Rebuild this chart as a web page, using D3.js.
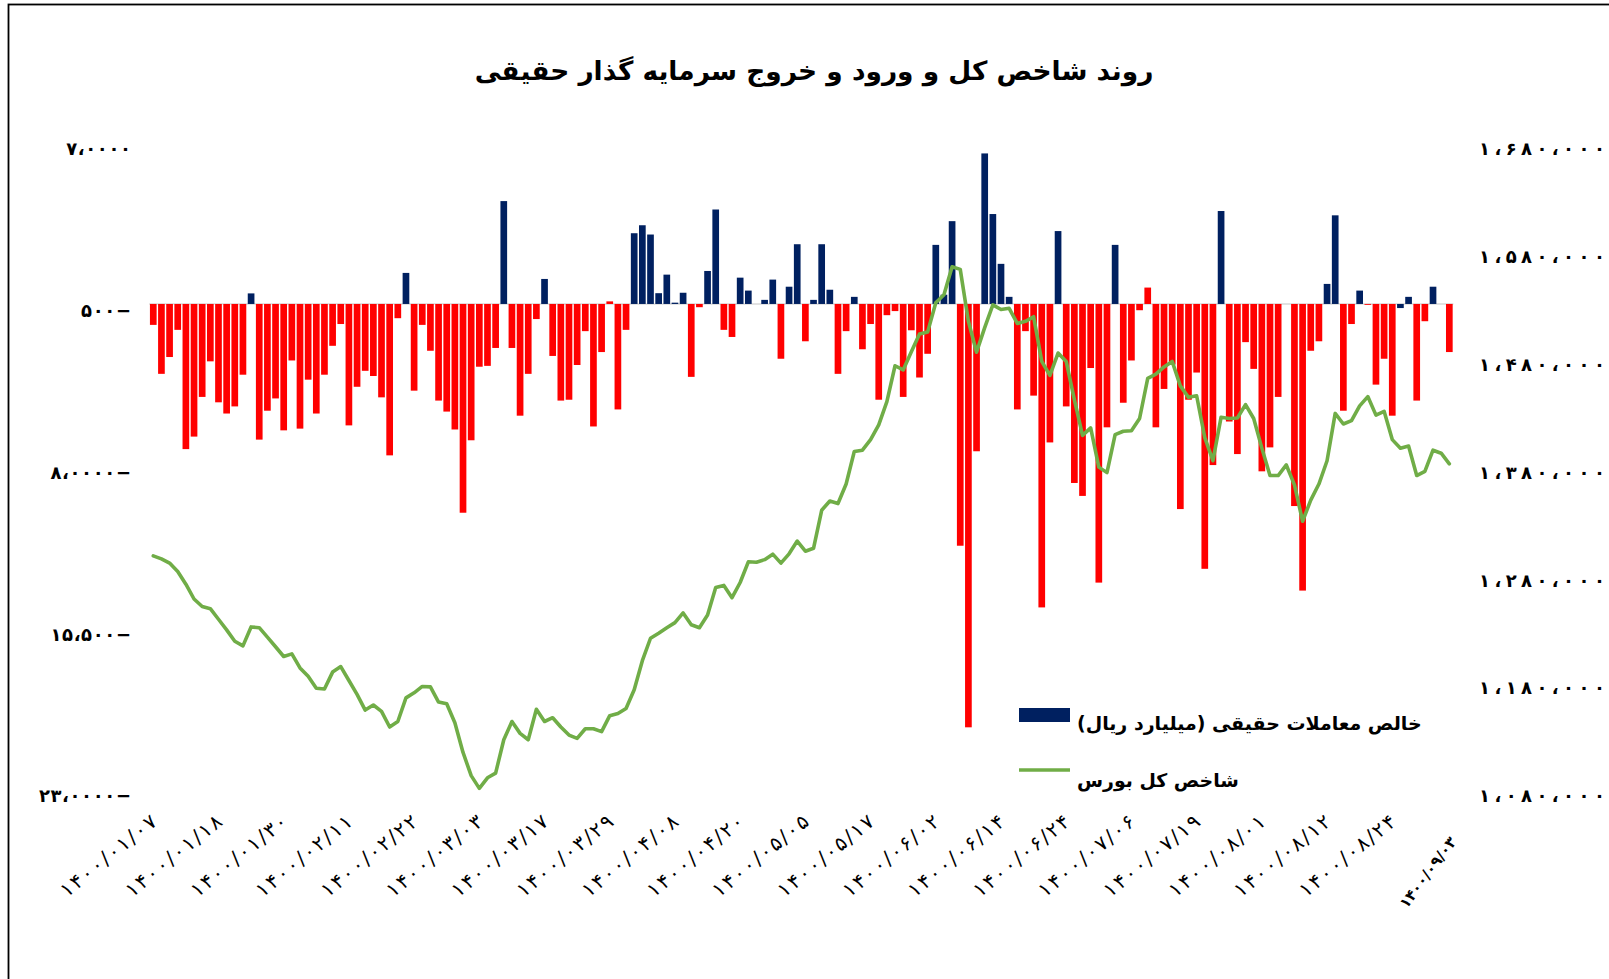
<!DOCTYPE html>
<html>
<head>
<meta charset="utf-8">
<script src="https://cdn.jsdelivr.net/npm/d3@7/dist/d3.min.js"></script>
<style>
body { margin: 0; background: #fff; }
text { font-family: "DejaVu Sans", sans-serif; }
</style>
</head>
<body>
<div id="chart"></div>
<script>
var width = 1609;
var height = 979;

// net retail (haghighi) flow, billion rial, one value per trading day
var netFlow = [
    -9700, -32400, -24600, -12000, -67300, -61500, -43100, -26600, -45600, -50800,
    -47500, -32800, 4900, -62900, -49500, -43800, -58600, -26200, -57800, -35100,
    -50800, -32800, -19400, -9300, -56300, -38400, -31000, -33400, -43300, -70200,
    -6600, 14400, -40200, -9700, -21700, -44800, -49900, -58200, -96800, -63200,
    -29100, -28700, -20400, 47700, -20400, -51800, -32400, -7000, 11600, -24100,
    -44800, -44400, -28300, -12600, -56800, -22300, 1200, -48900, -12000, 32800,
    36500, 32200, 5000, 13600, 600, 5200, -33800, -1500, 15300, 43800,
    -12000, -15300, 12200, 6200, 0, 1900, 11300, -25400, 8000, 27700,
    -17300, 1900, 27700, 6600, -32400, -12600, 3300, -21000, -9300, -44400,
    -5200, -3300, -43100, -12200, -34100, -23100, 27400, 4300, 38400, -112100,
    -196300, -68300, 69800, 41700, 18600, 3300, -48900, -12600, -42500, -140700,
    -64200, 33800, -47500, -83000, -89000, -29700, -129200, -57200, 27400, -45800,
    -26200, -2900, 7600, -57200, -39400, -28100, -95100, -44400, -31800, -122800,
    -74700, 43100, -54500, -69600, -17700, -30100, -77600, -66500, -43100, 0,
    -93700, -132900, -21700, -17300, 9300, 41100, -49500, -9300, 6200, -400,
    -37400, -25400, -51800, -1900, 3300, -44800, -8000, 8000, 0, -22300
];

// TEDPIX (shakhes kol), same days
var indexVals = [
    1306400, 1303600, 1299700, 1291900, 1280100, 1266400, 1259400, 1257400, 1247600, 1237800,
    1227200, 1222900, 1240500, 1239800, 1231100, 1222100, 1213100, 1215500, 1202500, 1194700,
    1183700, 1182900, 1198600, 1203700, 1190800, 1177900, 1163400, 1168100, 1162200, 1147700,
    1152800, 1174700, 1179400, 1185300, 1184900, 1170800, 1169200, 1151600, 1124100, 1102600,
    1090800, 1100600, 1104900, 1135900, 1152800, 1141800, 1135900, 1164100, 1152800, 1156300,
    1147700, 1140200, 1137100, 1146100, 1146100, 1143400, 1158200, 1160200, 1164900, 1182200,
    1209200, 1230000, 1234700, 1239800, 1244500, 1253500, 1242500, 1239800, 1251500, 1277000,
    1279000, 1267600, 1281700, 1300900, 1300500, 1302900, 1308000, 1299700, 1308300, 1320100,
    1310700, 1313400, 1348700, 1357300, 1354900, 1373000, 1403200, 1404400, 1414200, 1427900,
    1449400, 1482700, 1478800, 1495700, 1512100, 1514100, 1541100, 1548600, 1574500, 1572100,
    1523900, 1495300, 1518000, 1539200, 1534900, 1536000, 1521900, 1523900, 1528200, 1486700,
    1473700, 1494500, 1486700, 1451400, 1418100, 1425100, 1388700, 1383600, 1418900, 1422000,
    1422400, 1433800, 1471000, 1474900, 1481600, 1486700, 1464000, 1453400, 1454900, 1416100,
    1394600, 1435000, 1433800, 1434200, 1446700, 1433800, 1406300, 1380900, 1380900, 1390700,
    1372200, 1338500, 1358100, 1373000, 1394600, 1438500, 1428700, 1431800, 1445500, 1454100,
    1436900, 1440400, 1414200, 1406300, 1408300, 1380900, 1384800, 1404400, 1401600, 1391800
];

// days whose bar colour does not follow the sign
var flipColor = [56, 122, 153];

var labelDays = [0, 8, 16, 24, 32, 40, 48, 56, 64, 72, 80, 88, 96, 104, 112, 120, 128, 136, 144, 152, 159];
var dateLabels = [
    "۱۴۰۰/۰۱/۰۷", "۱۴۰۰/۰۱/۱۸", "۱۴۰۰/۰۱/۳۰", "۱۴۰۰/۰۲/۱۱", "۱۴۰۰/۰۲/۲۲",
    "۱۴۰۰/۰۳/۰۳", "۱۴۰۰/۰۳/۱۷", "۱۴۰۰/۰۳/۲۹", "۱۴۰۰/۰۴/۰۸", "۱۴۰۰/۰۴/۲۰",
    "۱۴۰۰/۰۵/۰۵", "۱۴۰۰/۰۵/۱۷", "۱۴۰۰/۰۶/۰۲", "۱۴۰۰/۰۶/۱۴", "۱۴۰۰/۰۶/۲۴",
    "۱۴۰۰/۰۷/۰۶", "۱۴۰۰/۰۷/۱۹", "۱۴۰۰/۰۸/۰۱", "۱۴۰۰/۰۸/۱۲", "۱۴۰۰/۰۸/۲۴",
    "۱۴۰۰/۰۹/۰۳"
];

var leftTicks = [70000, -5000, -80000, -155000, -230000];
var leftTickText = ["۷،۰۰۰۰", "۵۰۰−", "۸،۰۰۰۰−", "۱۵،۵۰۰−", "۲۳،۰۰۰۰−"];
var rightTicks = [1680000, 1580000, 1480000, 1380000, 1280000, 1180000, 1080000];
var rightTickText = ["۱،۶۸۰،۰۰۰", "۱،۵۸۰،۰۰۰", "۱،۴۸۰،۰۰۰", "۱،۳۸۰،۰۰۰", "۱،۲۸۰،۰۰۰", "۱،۱۸۰،۰۰۰", "۱،۰۸۰،۰۰۰"];

var titleText = "روند شاخص کل و ورود و خروج سرمایه گذار حقیقی";
var legendFlow = "خالص معاملات حقیقی (میلیارد ریال)";
var legendIndex = "شاخص کل بورس";

var navy = "#002060";
var red = "#FF0000";
var green = "#70AD47";

var plotTop = 153;
var plotBottom = 800;

var svg = d3.select("#chart")
    .append("svg")
    .attr("width", width)
    .attr("height", height);

svg.append("rect")
    .attr("width", width)
    .attr("height", height)
    .attr("fill", "#fff");

// chart area border (only left and top are inside the picture)
svg.append("rect")
    .attr("x", 8.5)
    .attr("y", 4.5)
    .attr("width", width + 20)
    .attr("height", height + 20)
    .attr("fill", "none")
    .attr("stroke", "#000")
    .attr("stroke-width", 1.8);

var xScale = d3.scaleBand()
    .domain(d3.range(netFlow.length))
    .range([149.2, 1453.4])
    .paddingInner(0.18)
    .paddingOuter(0.09);

var yLeft = d3.scaleLinear()
    .domain([-230000, 70000])
    .range([plotBottom, plotTop]);

var yRight = d3.scaleLinear()
    .domain([1080000, 1680000])
    .range([plotBottom, plotTop]);

function cx(i) {
    return xScale(i) + xScale.bandwidth() / 2;
}

// letter-spacing is dropped for arabic script, so space glyphs with dx
function gaps(str, g) {
    var out = [];
    for (var k = 0; k < str.length; k++) out.push(k == 0 ? 0 : g);
    return out.join(" ");
}

// zero line
svg.append("line")
    .attr("x1", 149.2)
    .attr("x2", 1453.4)
    .attr("y1", yLeft(0))
    .attr("y2", yLeft(0))
    .attr("stroke", "#D9D9D9")
    .attr("stroke-width", 1.5);

svg.selectAll("rect.bar")
    .data(netFlow)
    .enter()
    .append("rect")
    .attr("class", "bar")
    .attr("x", function(d, i) { return xScale(i); })
    .attr("width", xScale.bandwidth())
    .attr("y", function(d) { return yLeft(Math.max(0, d)); })
    .attr("height", function(d) { return Math.abs(yLeft(d) - yLeft(0)); })
    .attr("fill", function(d, i) {
        var pos = d >= 0;
        if (flipColor.indexOf(i) >= 0) pos = !pos;
        return pos ? navy : red;
    });

var line = d3.line()
    .x(function(d, i) { return cx(i); })
    .y(function(d) { return yRight(d); });

svg.append("path")
    .datum(indexVals)
    .attr("d", line)
    .attr("fill", "none")
    .attr("stroke", green)
    .attr("stroke-width", 3.6)
    .attr("stroke-linejoin", "round")
    .attr("stroke-linecap", "round");

// left axis (labels only)
var leftAxis = d3.axisLeft(yLeft)
    .tickValues(leftTicks)
    .tickSize(0)
    .tickPadding(0)
    .tickFormat(function(d, i) { return leftTickText[i]; });

var gL = svg.append("g")
    .attr("transform", "translate(131,0)")
    .call(leftAxis);
gL.select(".domain").remove();
gL.selectAll("text")
    .attr("font-family", "DejaVu Sans")
    .attr("font-size", 18)
    .attr("font-weight", "bold")
    .attr("fill", "#000")
    .attr("dy", "0.1em")
    .attr("direction", "ltr")
    .attr("dx", function(d, i) { return gaps(leftTickText[i], 0.6); });

var rightAxis = d3.axisRight(yRight)
    .tickValues(rightTicks)
    .tickSize(0)
    .tickPadding(0)
    .tickFormat(function(d, i) { return rightTickText[i]; });

var gR = svg.append("g")
    .attr("transform", "translate(1479,0)")
    .call(rightAxis);
gR.select(".domain").remove();
gR.selectAll("text")
    .attr("font-family", "DejaVu Sans")
    .attr("font-size", 18)
    .attr("font-weight", "bold")
    .attr("fill", "#000")
    .attr("dy", "0.1em")
    .attr("direction", "ltr")
    .attr("dx", function(d, i) { return gaps(rightTickText[i], 4.4); });

// date labels
var lastLabel = labelDays.length - 1;
svg.selectAll("text.date")
    .data(labelDays)
    .enter()
    .append("text")
    .attr("class", "date")
    .attr("direction", "ltr")
    .attr("text-anchor", "end")
    .attr("font-size", function(d, i) { return i == lastLabel ? 15 : 20; })
    .attr("font-weight", function(d, i) { return i == lastLabel ? "bold" : "normal"; })
    .attr("dx", function(d, i) { return gaps(dateLabels[i], i == lastLabel ? 0 : 2); })
    .attr("transform", function(d, i) {
        if (i == lastLabel) {
            return "translate(" + (cx(d) + 8) + ",842) rotate(-53)";
        }
        return "translate(" + (cx(d) + 5) + ",824) rotate(-39)";
    })
    .text(function(d, i) { return dateLabels[i]; });

// title
var title = svg.append("text")
    .attr("x", 814)
    .attr("y", 70)
    .attr("text-anchor", "middle")
    .attr("dominant-baseline", "central")
    .attr("font-size", 30)
    .attr("font-weight", "bold")
    .attr("direction", "rtl")
    .text(titleText);
var tw = title.node().getComputedTextLength();
title.attr("font-size", 30 * 679 / tw);

// legend
svg.append("rect")
    .attr("x", 1019)
    .attr("y", 708)
    .attr("width", 51)
    .attr("height", 14)
    .attr("fill", navy);

svg.append("line")
    .attr("x1", 1019)
    .attr("x2", 1070)
    .attr("y1", 770)
    .attr("y2", 770)
    .attr("stroke", green)
    .attr("stroke-width", 3.6);

function legendText(txt, y, w) {
    var t = svg.append("text")
        .attr("x", 1422)
        .attr("y", y)
        .attr("text-anchor", "start")
        .attr("direction", "rtl")
        .attr("dominant-baseline", "central")
        .attr("font-size", 22)
        .attr("font-weight", "bold")
        .text(txt);
    var lw = t.node().getComputedTextLength();
    t.attr("font-size", 22 * w / lw);
    lw = t.node().getComputedTextLength();
    t.attr("x", 1077 + lw);
}
legendText(legendFlow, 723, 345);
legendText(legendIndex, 780, 162);
</script>
</body>
</html>
